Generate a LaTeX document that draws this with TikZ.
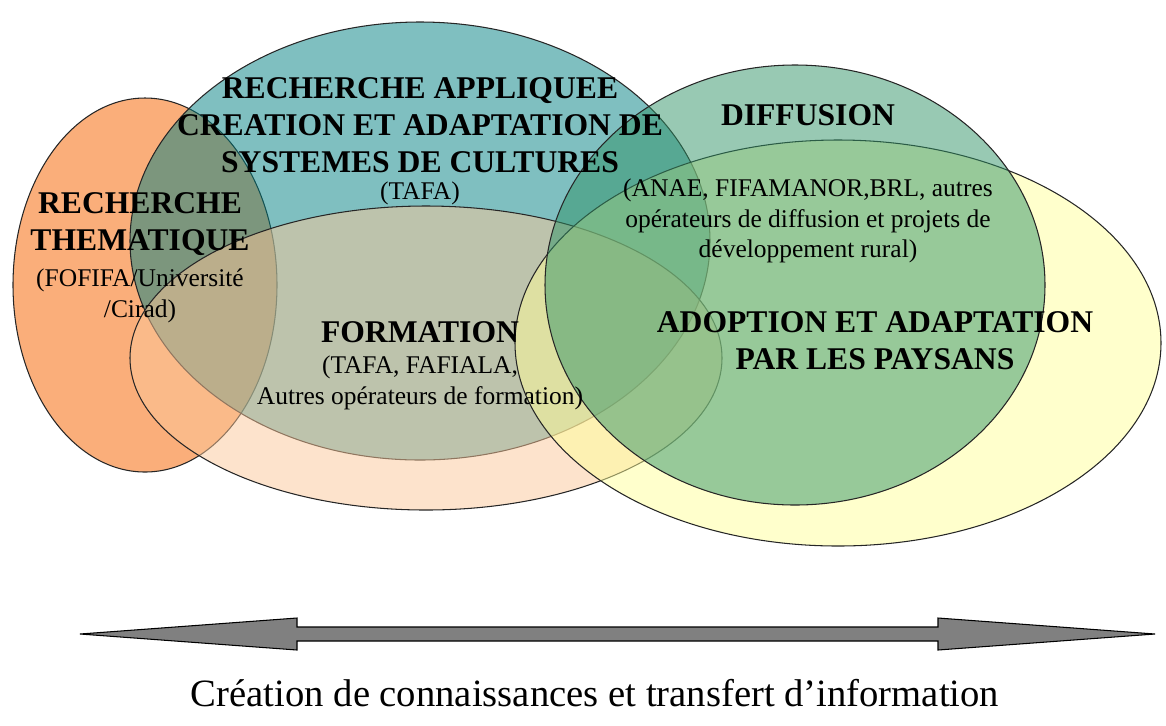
\documentclass[tikz,border=0pt]{standalone}
\usepackage{fontspec}
\setmainfont{Liberation Serif}
\usetikzlibrary{positioning}

\definecolor{orangeR}{RGB}{250,174,122}
\definecolor{tealA}{RGB}{0,127,129}
\definecolor{peachF}{RGB}{251,199,153}
\definecolor{yellowP}{RGB}{255,255,153}
\definecolor{greenD}{RGB}{49,147,103}
\definecolor{grisfleche}{RGB}{128,128,128}

\tikzset{
  bulle/.style={draw=black!85, line width=0.6pt},
  titre/.style={font=\bfseries\fontsize{18}{21}\selectfont, align=center, inner sep=0pt},
  detail/.style={font=\fontsize{14.5}{17.5}\selectfont, align=center, inner sep=0pt},
}

\begin{document}
\begin{tikzpicture}[x=0.02cm, y=-0.02cm]
    \useasboundingbox (0,0) rectangle (1166,725);
    % les ensembles
    \draw[bulle, fill=orangeR] (145,285) ellipse [x radius=132, y radius=187];
    \draw[bulle, fill=tealA, fill opacity=0.5] (420,241) ellipse [x radius=290, y radius=219];
    \draw[bulle, fill=peachF, fill opacity=0.5] (426,358) ellipse [x radius=296, y radius=152];
    \draw[bulle, fill=yellowP, fill opacity=0.5] (838,343) ellipse [x radius=323, y radius=203];
    \draw[bulle, fill=greenD, fill opacity=0.5] (795,285) ellipse [x radius=250, y radius=220];

    \node[titre] (thema) at (140,224) {RECHERCHE\\THEMATIQUE};
    \node[detail] (thema-sub) at (140,296) {(FOFIFA/Université\\/Cirad)};

    \node[titre] (appli) at (420,125) {RECHERCHE APPLIQUEE\\CREATION ET ADAPTATION DE\\SYSTEMES DE CULTURES};
    \node[detail] (appli-sub) at (420,193) {(TAFA)};

    \node[titre] (diffu) at (808,115) {DIFFUSION};
    \node[detail] (diffu-sub) at (808,221) {(ANAE, FIFAMANOR,BRL, autres\\opérateurs de diffusion et projets de\\développement rural)};

    \node[titre] (forma) at (420,332) {FORMATION};
    \node[detail] (forma-sub) at (420,383) {(TAFA, FAFIALA,\\Autres opérateurs de formation)};

    \node[titre] (adopt) at (875,341) {ADOPTION ET ADAPTATION\\PAR LES PAYSANS};

    % la fleche
    \coordinate (gauche) at (80,634);
    \coordinate (droite) at (1155,634);
    \filldraw[fill=grisfleche, draw=black, line width=0.6pt]
        (gauche) -- ++(217,-16) -- ++(0,9) -- ++(641,0) -- ++(0,-9) -- (droite)
        -- ++(-217,16) -- ++(0,-9) -- ++(-641,0) -- ++(0,9) -- cycle;

    \node[font=\fontsize{22}{26}\selectfont, inner sep=0pt] (legende) at (595,693)
        {Création de connaissances et transfert d’information};
\end{tikzpicture}
\end{document}
